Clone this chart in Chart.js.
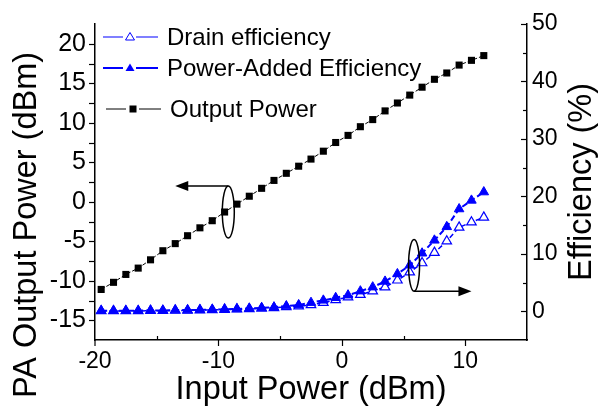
<!DOCTYPE html>
<html>
<head>
<meta charset="utf-8">
<script src="https://cdn.jsdelivr.net/npm/chart.js@4"></script>
<style>
  html, body { margin: 0; padding: 0; background: #fff; }
  #wrap { width: 601px; height: 413px; }
</style>
</head>
<body>
<div id="wrap"><canvas id="grafico" width="601" height="413"></canvas></div>
<script>
// Datos
const inputPower = [-19.5, -18.5, -17.5, -16.5, -15.5, -14.5, -13.5, -12.5, -11.5, -10.5,
  -9.5, -8.5, -7.5, -6.5, -5.5, -4.5, -3.5, -2.5, -1.5, -0.5,
  0.5, 1.5, 2.5, 3.5, 4.5, 5.5, 6.5, 7.5, 8.5, 9.5, 10.5, 11.5];
const outputPower = [-11.1, -10.2, -9.2, -8.4, -7.35, -6.2, -5.3, -4.3, -3.3, -2.4,
  -1.3, -0.3, 0.7, 1.7, 2.7, 3.6, 4.5, 5.4, 6.4, 7.5,
  8.4, 9.5, 10.4, 11.5, 12.5, 13.5, 14.5, 15.5, 16.3, 17.3, 17.9, 18.5];
const pae = [0.1, 0.1, 0.1, 0.1, 0.15, 0.15, 0.2, 0.2, 0.25, 0.3,
  0.35, 0.4, 0.5, 0.6, 0.7, 0.9, 1.1, 1.5, 1.9, 2.35,
  2.8, 3.5, 4.2, 5.2, 6.5, 8.0, 10.1, 12.35, 14.7, 17.8, 19.3, 20.75];
const drainEff = [0.05, 0.05, 0.05, 0.05, 0.1, 0.1, 0.15, 0.15, 0.2, 0.25,
  0.3, 0.35, 0.4, 0.5, 0.6, 0.75, 0.9, 1.1, 1.5, 2.0,
  2.45, 2.9, 3.5, 4.2, 5.4, 6.8, 8.4, 10.2, 12.2, 14.6, 15.5, 16.35];
const xTicks = [-20, -10, 0, 10];
const yTicks = [-15, -10, -5, 0, 5, 10, 15, 20];
const y1Ticks = [0, 10, 20, 30, 40, 50];

const FONT = "'Liberation Sans', Arial, Helvetica, sans-serif";
const BLUE = '#0000ff';

function pares(xs, ys) {
  return xs.map((x, i) => ({ x: x, y: ys[i] }));
}

// marcas de los ejes (mayores y menores)
const marcasPlugin = {
  id: 'marcas',
  afterDraw(chart) {
    const ctx = chart.ctx;
    const a = chart.chartArea;
    ctx.save();
    ctx.strokeStyle = '#000';
    ctx.lineWidth = 1.2;
    const sx = chart.scales.x;
    sx.ticks.forEach(t => {
      if (t.value <= sx.min || t.value >= sx.max) return;
      const p = Math.round(sx.getPixelForValue(t.value)) + 0.5;
      ctx.beginPath();
      if (xTicks.includes(t.value)) { ctx.moveTo(p, a.bottom); ctx.lineTo(p, a.bottom + 6); }
      else { ctx.moveTo(p, a.bottom); ctx.lineTo(p, a.bottom - 4); }
      ctx.stroke();
    });
    ctx.beginPath();
    ctx.moveTo(a.left, a.bottom); ctx.lineTo(a.left, a.bottom + 6); ctx.stroke();
    const sy = chart.scales.y;
    sy.ticks.forEach(t => {
      if (t.value <= sy.min || t.value >= sy.max) return;
      const p = Math.round(sy.getPixelForValue(t.value)) + 0.5;
      ctx.beginPath(); ctx.moveTo(a.left, p); ctx.lineTo(a.left - 6, p); ctx.stroke();
    });
    const s1 = chart.scales.y1;
    s1.ticks.forEach(t => {
      if (t.value <= s1.min || t.value > s1.max) return;
      const p = Math.round(s1.getPixelForValue(t.value)) + 0.5;
      const len = y1Ticks.includes(t.value) ? 6 : 4;
      ctx.beginPath(); ctx.moveTo(a.right, p); ctx.lineTo(a.right - len, p); ctx.stroke();
    });

    // titulos verticales (ambos se leen de abajo hacia arriba)
    ctx.fillStyle = '#000';
    ctx.font = '32.5px ' + FONT;
    ctx.textAlign = 'center';
    ctx.textBaseline = 'middle';
    ctx.translate(27, 225);
    ctx.rotate(-Math.PI / 2);
    ctx.fillText('PA Output Power (dBm)', 0, 0);
    ctx.setTransform(1, 0, 0, 1, 0, 0);
    ctx.translate(582, 182);
    ctx.rotate(-Math.PI / 2);
    ctx.fillText('Efficiency (%)', 0, 0);
    ctx.restore();
  }
};

function flecha(ctx, x0, y0, x1, y1) {
  const ang = Math.atan2(y1 - y0, x1 - x0);
  ctx.beginPath(); ctx.moveTo(x0, y0); ctx.lineTo(x1 - 12 * Math.cos(ang), y1 - 12 * Math.sin(ang)); ctx.stroke();
  ctx.beginPath();
  ctx.moveTo(x1, y1);
  ctx.lineTo(x1 - 13 * Math.cos(ang) + 5 * Math.sin(ang), y1 - 13 * Math.sin(ang) - 5 * Math.cos(ang));
  ctx.lineTo(x1 - 13 * Math.cos(ang) - 5 * Math.sin(ang), y1 - 13 * Math.sin(ang) + 5 * Math.cos(ang));
  ctx.closePath(); ctx.fill();
}

// elipses y flechas que indican el eje de cada curva
const notasPlugin = {
  id: 'notas',
  afterDatasetsDraw(chart) {
    const ctx = chart.ctx;
    const sx = chart.scales.x, sy = chart.scales.y, s1 = chart.scales.y1;
    ctx.save();
    ctx.strokeStyle = '#000'; ctx.fillStyle = '#000'; ctx.lineWidth = 1.5;
    let cx = sx.getPixelForValue(-9.2), cy = sy.getPixelForValue(-1.3);
    let ry = sy.getPixelForValue(-1.3) - sy.getPixelForValue(2.0);
    ctx.beginPath(); ctx.ellipse(cx, cy, 6, ry, 0, 0, Math.PI * 2); ctx.stroke();
    flecha(ctx, cx, cy - ry, sx.getPixelForValue(-13.5), cy - ry);
    cx = sx.getPixelForValue(5.85); cy = s1.getPixelForValue(8.0);
    ry = s1.getPixelForValue(8.0) - s1.getPixelForValue(12.5);
    ctx.beginPath(); ctx.ellipse(cx, cy, 5.5, ry, 0, 0, Math.PI * 2); ctx.stroke();
    flecha(ctx, cx, cy + ry, sx.getPixelForValue(10.5), cy + ry);
    ctx.restore();
  }
};

// leyenda dibujada a mano (linea - marcador - linea)
const leyendaPlugin = {
  id: 'leyenda',
  afterDraw(chart) {
    const ctx = chart.ctx;
    const filas = [
      { texto: 'Drain efficiency', y: 37, color: BLUE, lw: 1.2, marca: 'triOpen', x0: 103, tx: 167 },
      { texto: 'Power-Added Efficiency', y: 68, color: BLUE, lw: 1.8, marca: 'tri', x0: 103, tx: 167 },
      { texto: 'Output Power', y: 109, color: '#000', lw: 1, marca: 'rect', x0: 106, tx: 170 }
    ];
    ctx.save();
    filas.forEach(f => {
      ctx.strokeStyle = f.color; ctx.fillStyle = f.color; ctx.lineWidth = f.lw;
      ctx.beginPath();
      ctx.moveTo(f.x0, f.y); ctx.lineTo(f.x0 + 20, f.y);
      ctx.moveTo(f.x0 + 33, f.y); ctx.lineTo(f.x0 + 55, f.y);
      ctx.stroke();
      const mx = f.x0 + 27;
      if (f.marca === 'rect') {
        ctx.fillRect(mx - 3.5, f.y - 3.5, 7, 7);
      } else {
        ctx.beginPath();
        ctx.moveTo(mx, f.y - 4.5); ctx.lineTo(mx + 4.5, f.y + 3); ctx.lineTo(mx - 4.5, f.y + 3); ctx.closePath();
        if (f.marca === 'tri') ctx.fill();
        else { ctx.fillStyle = '#fff'; ctx.fill(); ctx.lineWidth = 1; ctx.stroke(); }
      }
      ctx.fillStyle = '#000';
      ctx.font = '24px ' + FONT;
      ctx.textBaseline = 'middle';
      ctx.fillText(f.texto, f.tx, f.y + 1);
    });
    ctx.restore();
  }
};

const ctx = document.getElementById('grafico').getContext('2d');
new Chart(ctx, {
  type: 'line',
  data: {
    datasets: [
      {
        label: 'Power-Added Efficiency',
        data: pares(inputPower, pae),
        yAxisID: 'y1',
        borderColor: BLUE,
        borderWidth: 2,
        borderDash: [6, 3],
        pointStyle: 'triangle',
        pointRadius: 5.5,
        pointBackgroundColor: BLUE,
        pointBorderColor: BLUE,
        pointBorderWidth: 1,
        order: 1
      },
      {
        label: 'Drain efficiency',
        data: pares(inputPower, drainEff),
        yAxisID: 'y1',
        borderColor: BLUE,
        borderWidth: 1.5,
        borderDash: [5, 3],
        pointStyle: 'triangle',
        pointRadius: 5.5,
        pointBackgroundColor: '#fff',
        pointBorderColor: BLUE,
        pointBorderWidth: 1.2,
        order: 2
      },
      {
        label: 'Output Power',
        data: pares(inputPower, outputPower),
        yAxisID: 'y',
        borderColor: '#000',
        borderWidth: 1,
        borderDash: [4, 2],
        pointStyle: 'rect',
        pointRadius: 5,
        pointBackgroundColor: '#000',
        pointBorderColor: '#000',
        pointBorderWidth: 0,
        order: 3
      }
    ]
  },
  options: {
    responsive: false,
    animation: false,
    layout: { padding: { top: 19 } },
    plugins: {
      legend: { display: false },
      tooltip: { enabled: false }
    },
    scales: {
      x: {
        type: 'linear',
        min: -20, max: 15,
        afterFit(s) { s.height = 73; },
        grid: { display: false, drawTicks: false },
        border: { display: true, color: '#000', width: 1.5 },
        ticks: {
          stepSize: 5, autoSkip: false, maxRotation: 0, padding: 8, color: '#000',
          font: { family: FONT, size: 23 },
          callback: v => xTicks.includes(v) ? String(v) : ''
        },
        title: {
          display: true, text: 'Input Power (dBm)', color: '#000',
          font: { family: FONT, size: 32.5 }, padding: { top: 0, bottom: 3 }
        }
      },
      y: {
        position: 'left',
        min: -17.5, max: 22.5,
        afterFit(s) { s.width = 95; },
        grid: { display: false, drawTicks: false },
        border: { display: true, color: '#000', width: 1.5 },
        ticks: {
          stepSize: 2.5, autoSkip: false, padding: 9, color: '#000',
          font: { family: FONT, size: 25 },
          callback: v => yTicks.includes(v) ? String(v) : ''
        },
        title: { display: false }
      },
      y1: {
        position: 'right',
        min: -5, max: 50,
        afterFit(s) { s.width = 74; },
        grid: { display: false, drawTicks: false },
        border: { display: true, color: '#000', width: 1.5 },
        ticks: {
          stepSize: 5, autoSkip: false, padding: 5, color: '#000',
          font: { family: FONT, size: 23 },
          callback: v => y1Ticks.includes(v) ? String(v) : ''
        },
        title: { display: false }
      }
    }
  },
  plugins: [marcasPlugin, notasPlugin, leyendaPlugin]
});
</script>
</body>
</html>
